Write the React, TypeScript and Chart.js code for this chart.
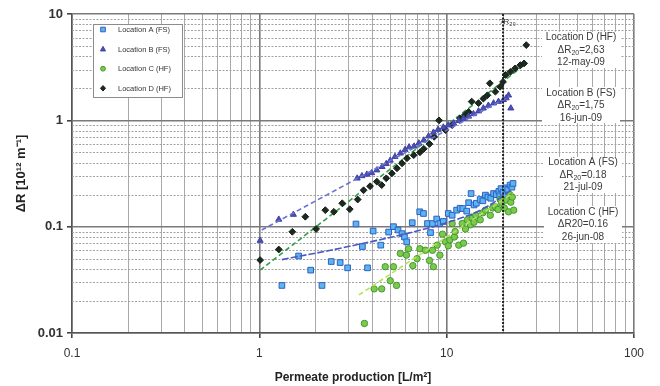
import { useEffect, useRef } from 'react';
import { Chart, registerables } from 'chart.js';

Chart.register(...registerables);

// ---------- data ----------
const SERIES_NAMES = ['Location A (FS)', 'Location B (FS)', 'Location C (HF)', 'Location D (HF)'];

const A_X = [1.32, 1.62, 1.88, 2.16, 2.42, 2.70, 2.96, 3.28, 3.55, 3.78, 4.05, 4.45, 4.90, 5.20, 5.50, 5.78, 5.95, 6.12, 6.55, 7.18, 7.52, 7.90, 8.20, 8.40, 8.85, 9.20, 9.60, 10.2, 10.7, 11.3, 11.8, 12.2, 12.8, 13.1, 13.5, 14.0, 14.4, 15.1, 15.6, 16.1, 16.6, 17.2, 17.8, 18.4, 19.0, 19.2, 19.5, 20.0, 20.6, 20.8, 21.2, 21.8, 22.3, 22.6];
const A_Y = [0.028, 0.053, 0.039, 0.028, 0.047, 0.046, 0.041, 0.106, 0.065, 0.041, 0.091, 0.067, 0.089, 0.100, 0.093, 0.086, 0.080, 0.072, 0.109, 0.138, 0.133, 0.107, 0.088, 0.107, 0.118, 0.107, 0.112, 0.133, 0.128, 0.143, 0.149, 0.148, 0.140, 0.168, 0.205, 0.160, 0.166, 0.180, 0.175, 0.198, 0.190, 0.185, 0.205, 0.200, 0.215, 0.195, 0.228, 0.210, 0.232, 0.200, 0.224, 0.246, 0.235, 0.255];

const B_X = [1.01, 1.27, 1.52, 3.33, 3.53, 3.75, 3.98, 4.24, 4.52, 4.76, 5.00, 5.30, 5.66, 6.00, 6.30, 6.70, 7.10, 7.55, 8.00, 8.50, 9.00, 9.60, 10.2, 10.9, 11.6, 12.3, 13.1, 13.9, 14.8, 15.7, 16.7, 17.8, 18.9, 20.1, 20.8, 21.4, 22.0];
const B_Y = [0.074, 0.117, 0.130, 0.285, 0.300, 0.310, 0.320, 0.340, 0.366, 0.390, 0.420, 0.455, 0.490, 0.530, 0.560, 0.570, 0.610, 0.650, 0.710, 0.770, 0.820, 0.860, 0.900, 0.940, 0.990, 1.04, 1.09, 1.15, 1.22, 1.30, 1.38, 1.45, 1.50, 1.56, 1.62, 1.72, 1.30];

const C_X = [3.64, 4.10, 4.50, 4.70, 5.00, 5.20, 5.40, 5.66, 6.10, 6.26, 6.60, 6.95, 7.20, 7.70, 8.10, 8.40, 8.50, 8.90, 9.20, 9.50, 9.85, 10.2, 10.4, 10.7, 11.0, 11.1, 11.6, 12.1, 12.3, 12.6, 12.9, 13.4, 13.7, 14.0, 14.3, 15.1, 15.6, 16.1, 17.1, 17.6, 18.2, 18.8, 19.3, 19.7, 20.3, 20.9, 21.4, 21.8, 22.0, 22.4, 22.8];
const C_Y = [0.0123, 0.026, 0.026, 0.042, 0.031, 0.042, 0.028, 0.056, 0.054, 0.062, 0.043, 0.050, 0.062, 0.060, 0.048, 0.060, 0.042, 0.067, 0.054, 0.085, 0.072, 0.066, 0.075, 0.107, 0.080, 0.090, 0.067, 0.107, 0.070, 0.095, 0.116, 0.104, 0.120, 0.110, 0.128, 0.116, 0.135, 0.143, 0.128, 0.150, 0.154, 0.145, 0.180, 0.166, 0.150, 0.178, 0.138, 0.200, 0.170, 0.190, 0.143];

const D_X = [1.01, 1.27, 1.50, 1.76, 2.01, 2.25, 2.50, 2.77, 3.04, 3.35, 3.60, 3.90, 4.24, 4.50, 4.76, 5.10, 5.43, 5.78, 6.14, 6.67, 7.20, 7.55, 8.10, 8.57, 9.10, 9.84, 10.7, 11.8, 12.5, 13.1, 13.6, 14.8, 15.7, 16.5, 17.0, 18.2, 19.3, 20.0, 20.6, 21.9, 23.2, 24.7, 25.9, 26.6];
const D_Y = [0.0485, 0.061, 0.0895, 0.124, 0.095, 0.143, 0.138, 0.166, 0.146, 0.180, 0.220, 0.240, 0.265, 0.246, 0.285, 0.317, 0.354, 0.394, 0.440, 0.470, 0.500, 0.540, 0.600, 0.700, 1.00, 0.810, 0.900, 1.04, 1.12, 1.20, 1.50, 1.45, 1.60, 1.72, 2.23, 1.86, 2.07, 2.30, 2.67, 2.86, 3.08, 3.30, 3.43, 5.10];

// trend lines
const TREND_A_X = [1.32, 1.66, 2.4, 4.8, 8.5, 13.9, 17.5, 21.9];
const TREND_A_Y = [0.049, 0.053, 0.060, 0.078, 0.100, 0.133, 0.165, 0.22];
const TREND_B_X = [1.03, 21.5];
const TREND_B_Y = [0.093, 1.67];
const TREND_C_X = [3.4, 22.6];
const TREND_C_Y = [0.0228, 0.207];
const TREND_D_X = [1.01, 26.9];
const TREND_D_Y = [0.039, 3.48];

const X_TICK_VALUES = [0.1, 1, 10, 100];
const X_TICK_LABELS = ['0.1', '1', '10', '100'];
const Y_TICK_VALUES = [0.01, 0.1, 1, 10];
const Y_TICK_LABELS = ['0.01', '0.1', '1', '10'];

const X_TITLE = 'Permeate production [L/m²]';
const Y_TITLE = 'ΔR [10¹² m⁻¹]';

const R20_X = 20;
const R20_LABEL = ['?R', '₂₀'];

type NoteLine = string | [string, string, string];
const NOTES: NoteLine[][] = [
  ['Location D (HF)', ['ΔR', '20', '=2,63'], '12-may-09'],
  ['Location B (FS)', ['ΔR', '20', '=1,75'], '16-jun-09'],
  ['Location A (FS)', ['ΔR', '20', '=0.18'], '21-jul-09'],
  ['Location C (HF)', 'ΔR20=0.16', '26-jun-08'],
];

// ---------- styles ----------
const COLORS = {
  aFill: '#5cb6ee', aEdge: '#2f5fc4',
  bFill: '#4d4fb4', bEdge: '#3e40a8',
  cFill: '#7ec94c', cEdge: '#3f9a30',
  dFill: '#1c2a1e', dEdge: '#14201a',
  trendA: '#4b57c6', trendB: '#6a73d2', trendC: '#b9e05c', trendD: '#2f9f4a',
};
const NOTE_POS = [
  { cx: 581, cy: 50, top: 32, bottom: 68 },
  { cx: 581, cy: 105.5, top: 87, bottom: 123 },
  { cx: 583, cy: 175, top: 157, bottom: 193 },
  { cx: 583, cy: 224.5, top: 206, bottom: 243 },
];

const zip = (xs: number[], ys: number[]) => xs.map((x, i) => ({ x, y: ys[i] }));
const isDecade = (v: number) => {
  if (!(v > 0)) return false;
  const l = Math.log10(v);
  return Math.abs(l - Math.round(l)) < 1e-9;
};
const logGrid = (fromExp: number, toExp: number) => {
  const out: number[] = [];
  for (let e = fromExp; e < toExp; e++) {
    for (let m = 1; m < 10; m++) out.push(Number((m * Math.pow(10, e)).toFixed(6)));
  }
  out.push(Math.pow(10, toExp));
  return out;
};
const X_GRID = logGrid(-1, 2);
const Y_GRID = logGrid(-2, 1);

function drawMarker(ctx: CanvasRenderingContext2D, i: number, x: number, y: number, s: number) {
  ctx.save();
  ctx.lineWidth = 1;
  ctx.beginPath();
  if (i === 0) {
    ctx.rect(x - s, y - s, 2 * s, 2 * s);
    ctx.fillStyle = COLORS.aFill; ctx.strokeStyle = COLORS.aEdge;
  } else if (i === 1) {
    ctx.moveTo(x, y - s * 1.2); ctx.lineTo(x + s * 1.1, y + s * 0.8); ctx.lineTo(x - s * 1.1, y + s * 0.8); ctx.closePath();
    ctx.fillStyle = COLORS.bFill; ctx.strokeStyle = COLORS.bEdge;
  } else if (i === 2) {
    ctx.arc(x, y, s * 1.05, 0, Math.PI * 2);
    ctx.fillStyle = COLORS.cFill; ctx.strokeStyle = COLORS.cEdge;
  } else {
    ctx.moveTo(x, y - s * 1.2); ctx.lineTo(x + s * 1.1, y); ctx.lineTo(x, y + s * 1.2); ctx.lineTo(x - s * 1.1, y); ctx.closePath();
    ctx.fillStyle = COLORS.dFill; ctx.strokeStyle = COLORS.dEdge;
  }
  ctx.fill(); ctx.stroke();
  ctx.restore();
}

const minorGridPlugin = {
  id: 'minorGrid',
  beforeDatasetsDraw(chart: any) {
    const { ctx, chartArea } = chart;
    const ys = chart.scales.y;
    ctx.save();
    ctx.strokeStyle = '#a0a0a0';
    ctx.lineWidth = 1;
    ctx.setLineDash([2, 1.5]);
    Y_GRID.forEach((v) => {
      if (isDecade(v)) return;
      const py = Math.round(ys.getPixelForValue(v)) + 0.5;
      ctx.beginPath();
      ctx.moveTo(chartArea.left, py);
      ctx.lineTo(chartArea.right, py);
      ctx.stroke();
    });
    ctx.restore();
  },
};

const overlayPlugin = {
  id: 'overlay',
  afterDatasetsDraw(chart: any) {
    const { ctx, chartArea } = chart;
    const xs = chart.scales.x;
    ctx.save();
    // R20 dotted line
    const px = xs.getPixelForValue(R20_X);
    ctx.strokeStyle = '#222';
    ctx.lineWidth = 2;
    ctx.setLineDash([2, 1.5]);
    ctx.beginPath();
    ctx.moveTo(px, chartArea.top);
    ctx.lineTo(px, chartArea.bottom);
    ctx.stroke();
    ctx.setLineDash([]);
    ctx.fillStyle = '#333';
    ctx.font = '8px "Liberation Sans", Arial, sans-serif';
    ctx.textBaseline = 'middle';
    ctx.textAlign = 'left';
    const w1 = ctx.measureText(R20_LABEL[0]).width;
    ctx.fillText(R20_LABEL[0], px - 4, chartArea.top + 8);
    ctx.fillText(R20_LABEL[1], px - 4 + w1, chartArea.top + 9);

    // notes
    NOTES.forEach((lines, n) => {
      const p = NOTE_POS[n];
      ctx.fillStyle = '#ffffff';
      ctx.fillRect(p.cx - 39, p.top, 78, p.bottom - p.top);
      ctx.fillStyle = '#3a3a3a';
      ctx.textBaseline = 'middle';
      lines.forEach((line, k) => {
        const y = p.cy + (k - 1) * 12.3;
        const mainFont = '10px "Liberation Sans", Arial, sans-serif';
        const subFont = '7px "Liberation Sans", Arial, sans-serif';
        if (typeof line === 'string') {
          ctx.font = mainFont;
          ctx.textAlign = 'center';
          ctx.fillText(line, p.cx, y);
        } else {
          ctx.textAlign = 'left';
          ctx.font = mainFont;
          const wa = ctx.measureText(line[0]).width;
          const wc = ctx.measureText(line[2]).width;
          ctx.font = subFont;
          const wb = ctx.measureText(line[1]).width;
          let x = p.cx - (wa + wb + wc) / 2;
          ctx.font = mainFont; ctx.fillText(line[0], x, y); x += wa;
          ctx.font = subFont; ctx.fillText(line[1], x, y + 3); x += wb;
          ctx.font = mainFont; ctx.fillText(line[2], x, y);
        }
      });
    });

    // legend
    const lx = chartArea.left + 21, ly = chartArea.top + 10, lw = 89, lh = 73;
    ctx.fillStyle = '#ffffff';
    ctx.fillRect(lx, ly, lw, lh);
    ctx.strokeStyle = '#8c8c8c';
    ctx.lineWidth = 1;
    ctx.strokeRect(lx + 0.5, ly + 0.5, lw, lh);
    SERIES_NAMES.forEach((name, i) => {
      const cy = ly + 5.5 + i * 19.6;
      drawMarker(ctx, i, lx + 10, cy, 2.3);
      ctx.fillStyle = '#333';
      ctx.font = '7.5px "Liberation Sans", Arial, sans-serif';
      ctx.textAlign = 'left';
      ctx.textBaseline = 'middle';
      ctx.fillText(name, lx + 25, cy + 0.5);
    });
    ctx.restore();
  },
};

export default function App() {
  const ref = useRef<HTMLCanvasElement>(null);
  useEffect(() => {
    document.body.style.margin = '0';
    const canvas = ref.current;
    if (!canvas) return;
    const trend = (xs: number[], ys: number[], color: string, dash: number[]) => ({
      type: 'line' as const,
      data: zip(xs, ys),
      borderColor: color,
      borderWidth: 1.6,
      borderDash: dash,
      pointRadius: 0,
      showLine: true,
      fill: false,
      tension: 0.3,
    });
    const chart = new Chart(canvas, {
      type: 'scatter',
      data: {
        datasets: [
          trend(TREND_A_X, TREND_A_Y, COLORS.trendA, [7, 2]),
          trend(TREND_B_X, TREND_B_Y, COLORS.trendB, [5, 3]),
          trend(TREND_C_X, TREND_C_Y, COLORS.trendC, [5, 3]),
          {
            label: SERIES_NAMES[2], data: zip(C_X, C_Y), pointStyle: 'circle', pointRadius: 3.2,
            backgroundColor: COLORS.cFill, borderColor: COLORS.cEdge, borderWidth: 1,
          },
          {
            label: SERIES_NAMES[0], data: zip(A_X, A_Y), pointStyle: 'rect', pointRadius: 4,
            backgroundColor: COLORS.aFill, borderColor: COLORS.aEdge, borderWidth: 1,
          },
          {
            label: SERIES_NAMES[1], data: zip(B_X, B_Y), pointStyle: 'triangle', pointRadius: 3.5,
            backgroundColor: COLORS.bFill, borderColor: COLORS.bEdge, borderWidth: 1,
          },
          {
            label: SERIES_NAMES[3], data: zip(D_X, D_Y), pointStyle: 'rectRot', pointRadius: 3.4,
            backgroundColor: COLORS.dFill, borderColor: COLORS.dEdge, borderWidth: 1,
          },
          trend(TREND_D_X, TREND_D_Y, COLORS.trendD, [5, 3]),
        ] as any,
      },
      options: {
        responsive: false,
        animation: false,
        devicePixelRatio: 1,
        layout: { padding: { left: 0, top: 14, right: 26, bottom: 0 } },
        plugins: { legend: { display: false }, tooltip: { enabled: false } },
        scales: {
          x: {
            type: 'logarithmic',
            min: 0.1,
            max: 100,
            afterBuildTicks: (scale: any) => {
              scale.ticks = X_GRID.map((v) => ({ value: v, major: isDecade(v) }));
            },
            afterFit: (scale: any) => {
              scale.height = 53;
              scale.paddingLeft = 0;
              scale.paddingRight = 0;
            },
            ticks: {
              autoSkip: false,
              maxRotation: 0,
              padding: 8,
              color: '#333',
              font: { size: 12, family: '"Liberation Sans", Arial, sans-serif' },
              callback: (v: any) => {
                const i = X_TICK_VALUES.findIndex((t) => Math.abs(t - Number(v)) < 1e-9);
                return i >= 0 ? X_TICK_LABELS[i] : '';
              },
            },
            grid: {
              color: (c: any) => (isDecade(c.tick?.value) ? '#7a7a7a' : '#a9a9a9'),
              lineWidth: (c: any) => (isDecade(c.tick?.value) ? 1.6 : 1),
              tickColor: (c: any) => (isDecade(c.tick?.value) ? '#444' : 'rgba(0,0,0,0)'),
              tickLength: 5,
            },
            border: { color: '#555', width: 1.5 },
            title: {
              display: true,
              text: X_TITLE,
              color: '#222',
              font: { size: 12, weight: 'bold', family: '"Liberation Sans", Arial, sans-serif' },
              padding: { top: 0, bottom: 1 },
            },
          },
          y: {
            type: 'logarithmic',
            min: 0.01,
            max: 10,
            afterBuildTicks: (scale: any) => {
              scale.ticks = Y_GRID.map((v) => ({ value: v, major: isDecade(v) }));
            },
            afterFit: (scale: any) => {
              scale.width = 72;
              scale.paddingTop = 0;
              scale.paddingBottom = 0;
            },
            ticks: {
              autoSkip: false,
              padding: 4,
              color: '#333',
              font: { size: 13, weight: 'bold', family: '"Liberation Sans", Arial, sans-serif' },
              callback: (v: any) => {
                const i = Y_TICK_VALUES.findIndex((t) => Math.abs(t - Number(v)) < 1e-12);
                return i >= 0 ? Y_TICK_LABELS[i] : '';
              },
            },
            grid: {
              color: (c: any) => (isDecade(c.tick?.value) ? '#7a7a7a' : 'rgba(0,0,0,0)'),
              lineWidth: (c: any) => (isDecade(c.tick?.value) ? 1.6 : 1),
              tickColor: (c: any) => (isDecade(c.tick?.value) ? '#444' : 'rgba(0,0,0,0)'),
              tickLength: 5,
            },
            border: { color: '#555', width: 1.5 },
            title: {
              display: true,
              text: Y_TITLE,
              color: '#222',
              font: { size: 13, weight: 'bold', family: '"Liberation Sans", Arial, sans-serif' },
              padding: { top: 14, bottom: 0 },
            },
          },
        },
      } as any,
      plugins: [minorGridPlugin, overlayPlugin],
    });
    return () => chart.destroy();
  }, []);
  return (
    <div style={{ width: 660, height: 386, background: '#fff' }}>
      <canvas ref={ref} width={660} height={386} style={{ display: 'block' }} />
    </div>
  );
}
